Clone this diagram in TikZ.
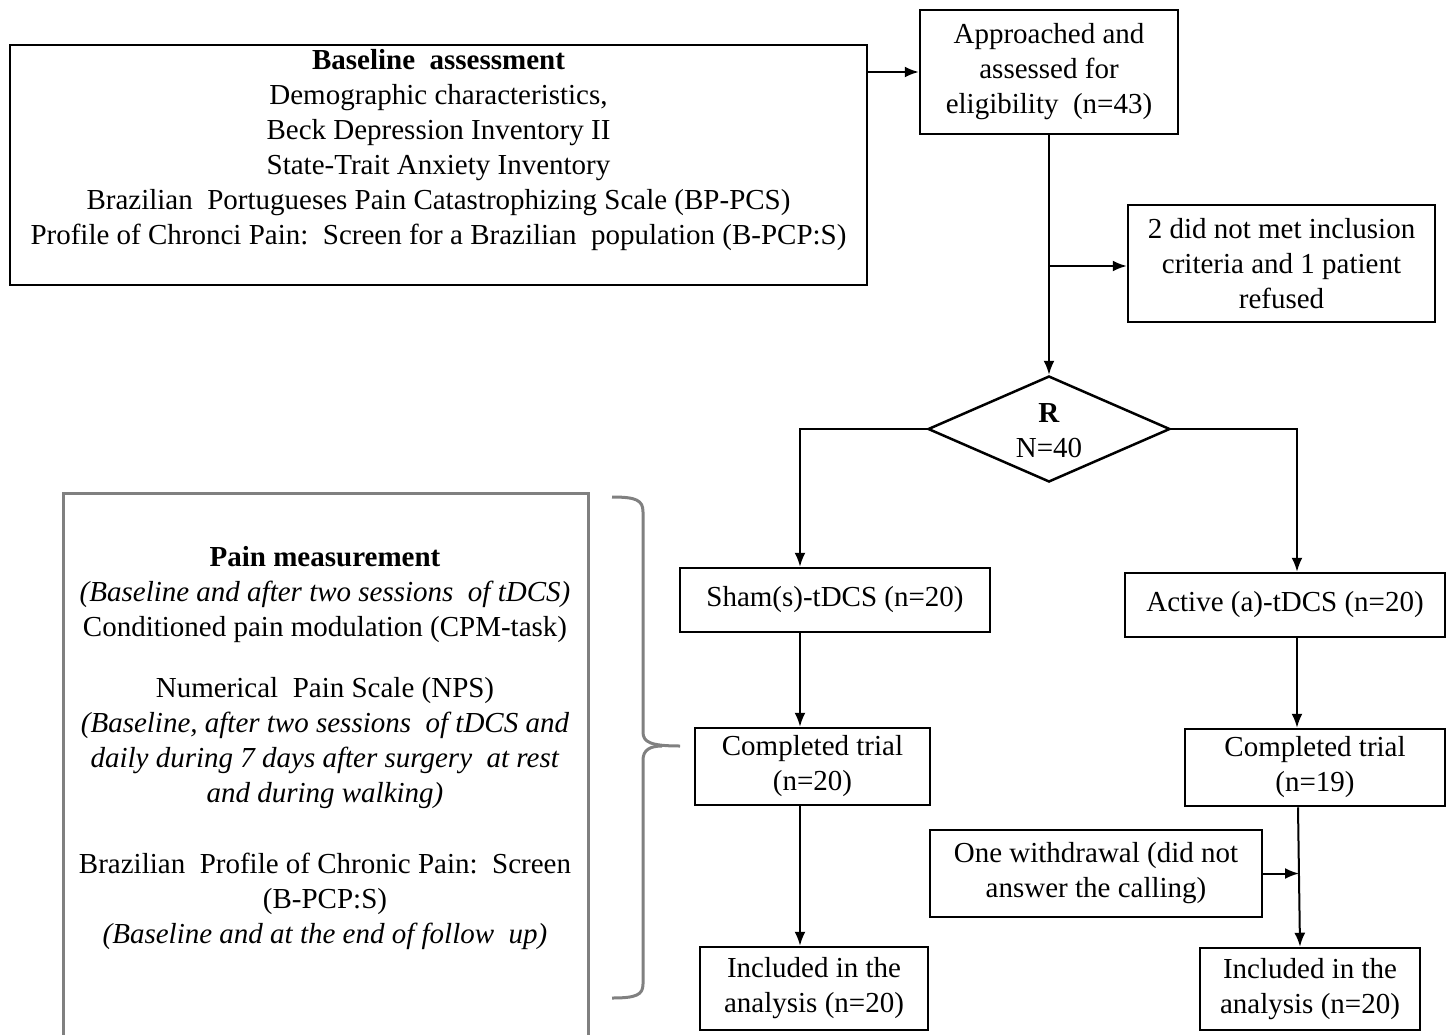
\documentclass[tikz,border=0pt]{standalone}
\usepackage{fontspec}
\setmainfont{Liberation Serif}
\usetikzlibrary{arrows.meta,shapes.geometric,calc}
\definecolor{painGray}{RGB}{128,128,128}
\begin{document}
\begin{tikzpicture}[x=1pt,y=-1pt,
  box/.style={draw, line width=2.5pt, inner sep=0pt, align=center, font=\fontsize{29}{35}\selectfont},
  txt/.style={inner sep=0pt, align=center, font=\fontsize{29}{35}\selectfont},
  arr/.style={line width=2pt, -{Latex[length=14pt,width=11pt]}},
  ln/.style={line width=2pt},
  grayline/.style={draw=painGray, line width=3pt}
  ]
\useasboundingbox (0,0) rectangle (1448,1034);

% Baseline box
\node[box, minimum width=857pt, minimum height=240pt] (base) at (438.5,165) {};
\node[txt] (basetxt) at (438.5,150) {\textbf{Baseline\ \ assessment}\\
Demographic characteristics,\\
Beck Depression Inventory II\\
State-Trait Anxiety Inventory\\
Brazilian\ \ Portugueses Pain Catastrophizing Scale (BP-PCS)\\
Profile of Chronci Pain:\ \ Screen for a Brazilian\ \ population (B-PCP:S)};

% Flow boxes
\node[box, minimum width=258pt, minimum height=124pt] (appr) at (1049,72)
  {Approached and\\assessed for\\eligibility\ \ (n=43)};
\node[box, minimum width=307pt, minimum height=117pt] (excl) at (1281.5,263.5)
  {2 did not met inclusion\\criteria and 1 patient\\refused};
\node[diamond, draw, line width=2.5pt, inner sep=0pt, minimum width=242pt, minimum height=106pt] (rand) at (1049,429) {};
\node[txt] (randtxt) at (1049,431) {\textbf{R}\\N=40};

\node[box, minimum width=310pt, minimum height=64pt] (sham) at (835,600) {Sham(s)-tDCS (n=20)};
\node[box, minimum width=320pt, minimum height=64pt] (act) at (1285,605) {Active (a)-tDCS (n=20)};
\node[box, minimum width=235pt, minimum height=77pt] (comp1) at (812.5,766.5) {Completed trial\\(n=20)};
\node[box, minimum width=260pt, minimum height=77pt] (comp2) at (1315,767.5) {Completed trial\\(n=19)};
\node[box, minimum width=332pt, minimum height=87pt] (wd) at (1096,873.5) {One withdrawal (did not\\answer the calling)};
\node[box, minimum width=228pt, minimum height=83pt] (inc1) at (814,988.5) {Included in the\\analysis (n=20)};
\node[box, minimum width=220pt, minimum height=82pt] (inc2) at (1310,989) {Included in the\\analysis (n=20)};

% Pain measurement box (open at the bottom)
\draw[grayline] (63,1040) -- (63,493) -- (588,493) -- (588,1040);
\node[txt] (paintxt) at (325,748) {\textbf{Pain measurement}\\
\textit{(Baseline and after two sessions\ \ of tDCS)}\\
Conditioned pain modulation (CPM-task)\\[26pt]
Numerical\ \ Pain Scale (NPS)\\
\textit{(Baseline, after two sessions\ \ of tDCS and}\\
\textit{daily during 7 days after surgery\ \ at rest}\\
\textit{and during walking)}\\[36pt]
Brazilian\ \ Profile of Chronic Pain:\ \ Screen\\
(B-PCP:S)\\
\textit{(Baseline and at the end of follow\ \ up)}};

% Bracket
\draw[grayline] (612,497) .. controls (636,497) and (643,500) .. (643,512) -- (643,732)
  .. controls (643,742) and (650,746) .. (680,746);
\draw[grayline] (662,746) .. controls (650,746) and (643,750) .. (643,760) -- (643,984)
  .. controls (643,995) and (636,998) .. (612,998);

% Connectors
\coordinate (j1) at (1049,266);
\coordinate (shamin) at (800,0 |- sham.north);
\coordinate (actin) at (1297,0 |- act.north);
\coordinate (wdend) at (1299,0 |- wd.east);

\draw[arr] (appr.west -| base.east) -- (appr.west);
\draw[arr] (appr.south) -- (rand.north);
\draw[arr] (j1) -- (j1 -| excl.west);
\draw[arr] (rand.west) -| (shamin);
\draw[arr] (rand.east) -| (actin);
\draw[arr] (800,0 |- sham.south) -- (800,0 |- comp1.north);
\draw[arr] (1297,0 |- act.south) -- (1297,0 |- comp2.north);
\draw[arr] (800,0 |- comp1.south) -- (800,0 |- inc1.north);
\draw[arr] (1298,0 |- comp2.south) -- (1300,0 |- inc2.north);
\draw[arr] (wd.east) -- (wdend);
\end{tikzpicture}
\end{document}
